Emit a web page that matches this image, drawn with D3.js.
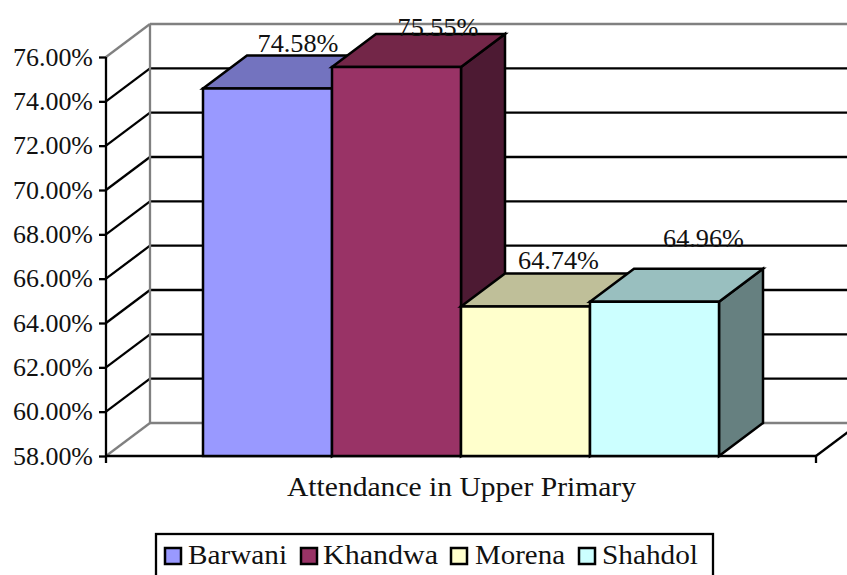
<!DOCTYPE html>
<html><head><meta charset="utf-8">
<script src="https://cdn.jsdelivr.net/npm/d3@7/dist/d3.min.js"></script>
<style>html,body{margin:0;padding:0;background:#fff}svg{display:block}text{font-family:"Liberation Serif",serif;fill:#111}</style>
</head><body><svg id="c" width="847" height="575"></svg>
<script>
const seriesNames = ["Barwani","Khandwa","Morena","Shahdol"];
const seriesValues = [74.58,75.55,64.74,64.96];
const valueLabels = ["74.58%","75.55%","64.74%","64.96%"];
const tickValues = [58,60,62,64,66,68,70,72,74,76];
const categoryLabel = "Attendance in Upper Primary";
const frontColors = ["#9999ff","#993366","#ffffcc","#ccffff"];
const topColors = ["#7373bf","#732648","#bfbf99","#99bfbf"];
const sideColors = ["#4d4d80","#4d1a33","#808066","#668080"];

const svg = d3.select("#c");
const y = d3.scaleLinear().domain([58,76]).range([456,57]);
const x = d3.scaleBand().domain(seriesNames).range([203,719]).padding(0);
const dx = 44, dy = -33, x0 = 106, x1 = 816;
const line = (a,b,c,d,col,w)=>svg.append("line").attr("x1",a).attr("y1",b).attr("x2",c).attr("y2",d).attr("stroke",col).attr("stroke-width",w);
const numFont = 26, wordFont = 28;
const poly = (pts,fill)=>svg.append("polygon").attr("points",pts.map(p=>p.join(",")).join(" "))
  .attr("fill",fill).attr("stroke","#000").attr("stroke-width",2.5).attr("stroke-linejoin","miter");

// walls
tickValues.forEach(t=>{
  const c = t===58||t===76 ? "#808080" : "#000";
  if(t!==76) line(x0,y(t),x0+dx,y(t)+dy,c,2.3);
  line(x0+dx,y(t)+dy,847,y(t)+dy,c,2.3);
});
line(x0,y(76),x0+dx,y(76)+dy,"#808080",2.3);
line(x0+dx,y(58)+dy,x0+dx,y(76)+dy,"#808080",2.3);
line(x1,y(58),x1+dx,y(58)+dy,"#000",2.3);

// axes
const yAxis = d3.axisLeft(y).tickValues(tickValues).tickFormat(d=>d.toFixed(2)+"%").tickSize(7).tickPadding(6);
const gy = svg.append("g").attr("transform",`translate(${x0},0)`).call(yAxis);
gy.select(".domain").attr("stroke","#000").attr("stroke-width",2.3).attr("d",`M0,${y(76)}V463`);
gy.selectAll(".tick line").attr("stroke","#000").attr("stroke-width",2.3);
gy.selectAll("text").attr("font-size",numFont).attr("fill","#111").attr("font-family","Liberation Serif")
  .attr("textLength",80).attr("lengthAdjust","spacingAndGlyphs");
line(x0,y(58),x1,y(58),"#000",2.3);
line(x1,y(58),x1,463,"#000",2.3);

// bars
seriesNames.forEach((s,i)=>{
  const a=x(s), b=a+x.bandwidth(), t=y(seriesValues[i]), f=y(58);
  poly([[b,t],[b+dx,t+dy],[b+dx,f+dy],[b,f]],sideColors[i]);
  poly([[a,t],[a+dx,t+dy],[b+dx,t+dy],[b,t]],topColors[i]);
  poly([[a,t],[b,t],[b,f],[a,f]],frontColors[i]);
});

// value labels, each moved by hand in the reference
const labelNudge = [[30.5,-3.5],[41.5,2],[33,-4.5],[49,-21.5]];
seriesNames.forEach((s,i)=>{
  svg.append("text").attr("x",x(s)+x.bandwidth()/2+labelNudge[i][0]).attr("y",y(seriesValues[i])+dy+labelNudge[i][1])
    .attr("text-anchor","middle").attr("font-size",numFont)
    .attr("textLength",81).attr("lengthAdjust","spacingAndGlyphs").text(valueLabels[i]);
});

svg.append("text").attr("x",287).attr("y",496).attr("font-size",wordFont)
  .attr("textLength",349).attr("lengthAdjust","spacingAndGlyphs").text(categoryLabel);

// legend
svg.append("rect").attr("x",156).attr("y",534).attr("width",557).attr("height",50).attr("fill","#fff").attr("stroke","#000").attr("stroke-width",2.3);
const swatchX = [165,301,451,579], nameX = [188,323,475,602], nameW = [99,115,90,96];
seriesNames.forEach((s,i)=>{
  svg.append("rect").attr("x",swatchX[i]).attr("y",548).attr("width",16).attr("height",16).attr("fill",frontColors[i]).attr("stroke","#000").attr("stroke-width",2.5);
  svg.append("text").attr("x",nameX[i]).attr("y",564).attr("font-size",wordFont)
    .attr("textLength",nameW[i]).attr("lengthAdjust","spacingAndGlyphs").text(s);
});
</script></body></html>
